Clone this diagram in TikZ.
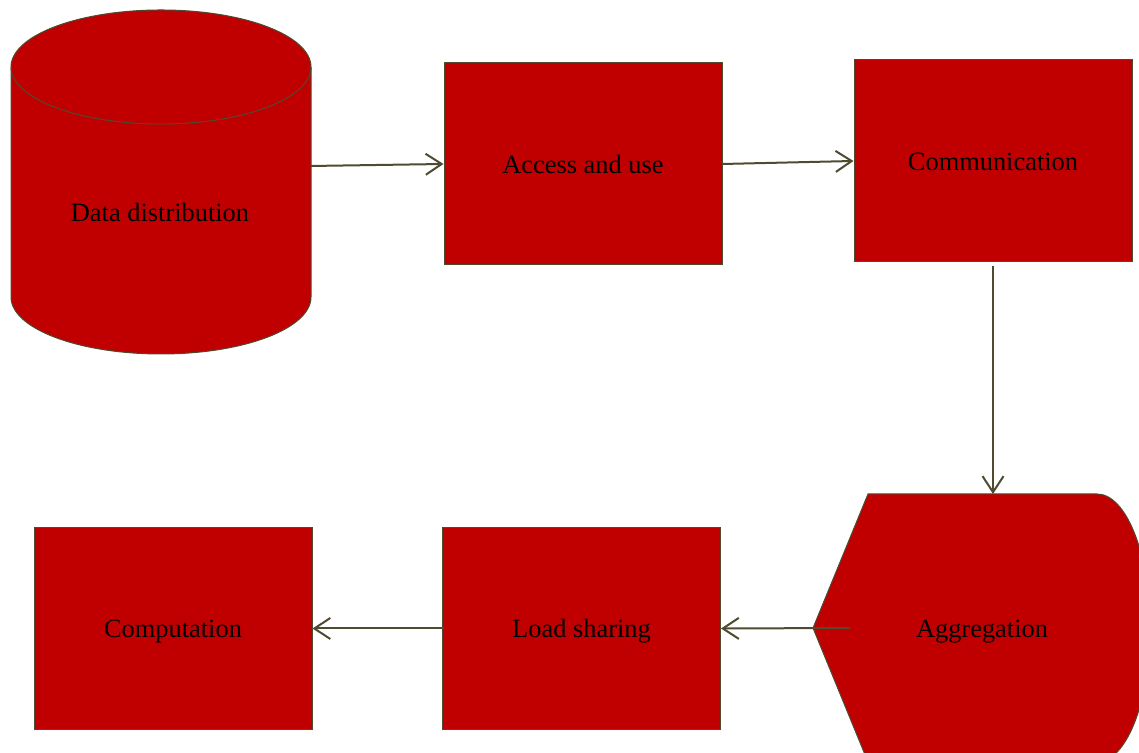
\documentclass[tikz,border=0pt]{standalone}
\usepackage{fontspec}
\setmainfont{Liberation Serif}
\usetikzlibrary{arrows.meta}
\definecolor{boxred}{RGB}{192,0,0}
\definecolor{edgeol}{RGB}{79,74,48}
\begin{document}
\begin{tikzpicture}[x=0.5pt,y=0.5pt,
  font=\fontsize{13.2}{16}\selectfont,
  block/.style={draw=edgeol, line width=0.5pt, fill=boxred,
    minimum width=139pt, minimum height=101pt, inner sep=0pt,
    text height=9.5pt, text depth=0pt},
  shapefill/.style={draw=edgeol, line width=0.5pt, fill=boxred},
  flow/.style={draw=edgeol, line width=1pt,
    -{Straight Barb[length=8pt,width=10.5pt,line width=1pt]}}]
\clip (0,0) rectangle (1139,753);
% Cylinder: data distribution
\path[shapefill] (11,456) arc[start angle=180, end angle=360, x radius=150, y radius=57]
  -- (311,686) arc[start angle=0, end angle=180, x radius=150, y radius=57] -- cycle;
\draw[edgeol, line width=0.5pt] (11,686) arc[start angle=180, end angle=360, x radius=150, y radius=57];
\node (dist) at (160,541) {Data distribution};
\coordinate (distout) at (311,587);

% Top row
\node[block] (access) at (583,589) {Access and use};
\node[block] (comm) at (993,592) {Communication};

% Aggregation (pointed left, rounded right)
\path[shapefill] (868,259) -- (1097,259)
  arc[start angle=90, end angle=-90, x radius=53, y radius=134]
  -- (868,-9) -- (813,125) -- cycle;
\node[text height=9.5pt, text depth=0pt] (agg) at (982,125) {Aggregation};
\coordinate (aggin) at (993,259);
\coordinate (aggout) at (850,125);

% Bottom row
\node[block] (load) at (581.5,124.5) {Load sharing};
\node[block] (comp) at (173,124.5) {Computation};

% Connectors
\draw[flow] (distout) -- (access.west);
\draw[flow] (access.east) -- (comm.west);
\draw[flow, shorten <=2pt] (comm.south) -- (aggin);
\draw[flow] (aggout) -- (load.east);
\draw[flow, shorten <=-1pt] (load.west) -- (comp.east);
\end{tikzpicture}
\end{document}
